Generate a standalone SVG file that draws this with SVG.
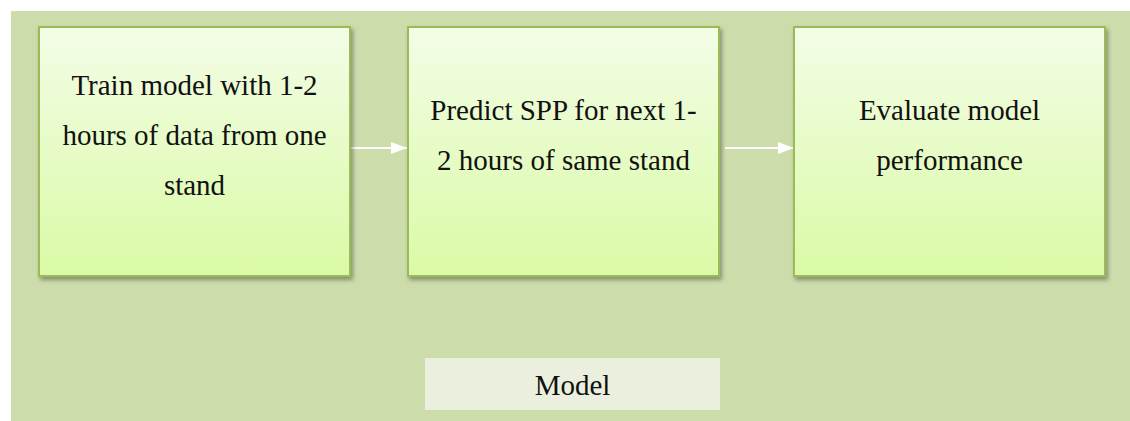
<svg xmlns="http://www.w3.org/2000/svg" width="1130" height="421" viewBox="0 0 1130 421">
<style>
.box{fill:url(#g);stroke:#9BBB59;stroke-width:2;filter:url(#sh)}
.lbl{font-family:'Liberation Serif','Times New Roman',serif;font-size:29px;fill:#111;text-anchor:middle}
.c{stroke:#fff;stroke-width:2;fill:none}
</style>
<defs>
<linearGradient id="g" x1="0" y1="0" x2="0" y2="1">
<stop offset="0" stop-color="#F3FDE6"/>
<stop offset="1" stop-color="#DAFAA6"/>
</linearGradient>
<filter id="sh" x="-10%" y="-10%" width="120%" height="120%">
<feDropShadow dx="2" dy="3" stdDeviation="2" flood-color="#000" flood-opacity="0.35"/>
</filter>
<marker id="ah" markerWidth="16" markerHeight="12" refX="16" refY="6" orient="auto" markerUnits="userSpaceOnUse">
<path d="M0,0 L16,6 L0,12 Z" fill="#fff"/>
</marker>
</defs>
<rect x="11" y="11" width="1119" height="410" fill="#CDDCAB"/>
<g id="connectors">
<line class="c" x1="351" y1="148" x2="407" y2="148" marker-end="url(#ah)"/>
<line class="c" x1="725" y1="148" x2="794" y2="148" marker-end="url(#ah)"/>
</g>
<g id="node1">
<rect class="box" x="39" y="27" width="311" height="249"/>
<text class="lbl" x="194.5" y="95">Train model with 1-2</text>
<text class="lbl" x="194.5" y="145">hours of data from one</text>
<text class="lbl" x="194.5" y="195">stand</text>
</g>
<g id="node2">
<rect class="box" x="408" y="27" width="311" height="249"/>
<text class="lbl" x="563.5" y="120">Predict SPP for next 1-</text>
<text class="lbl" x="563.5" y="170">2 hours of same stand</text>
</g>
<g id="node3">
<rect class="box" x="794" y="27" width="311" height="249"/>
<text class="lbl" x="949.5" y="120">Evaluate model</text>
<text class="lbl" x="949.5" y="170">performance</text>
</g>
<g id="label">
<rect x="425" y="358" width="295" height="52" fill="#EBF0DE"/>
<text class="lbl" x="572.5" y="395">Model</text>
</g>
</svg>
